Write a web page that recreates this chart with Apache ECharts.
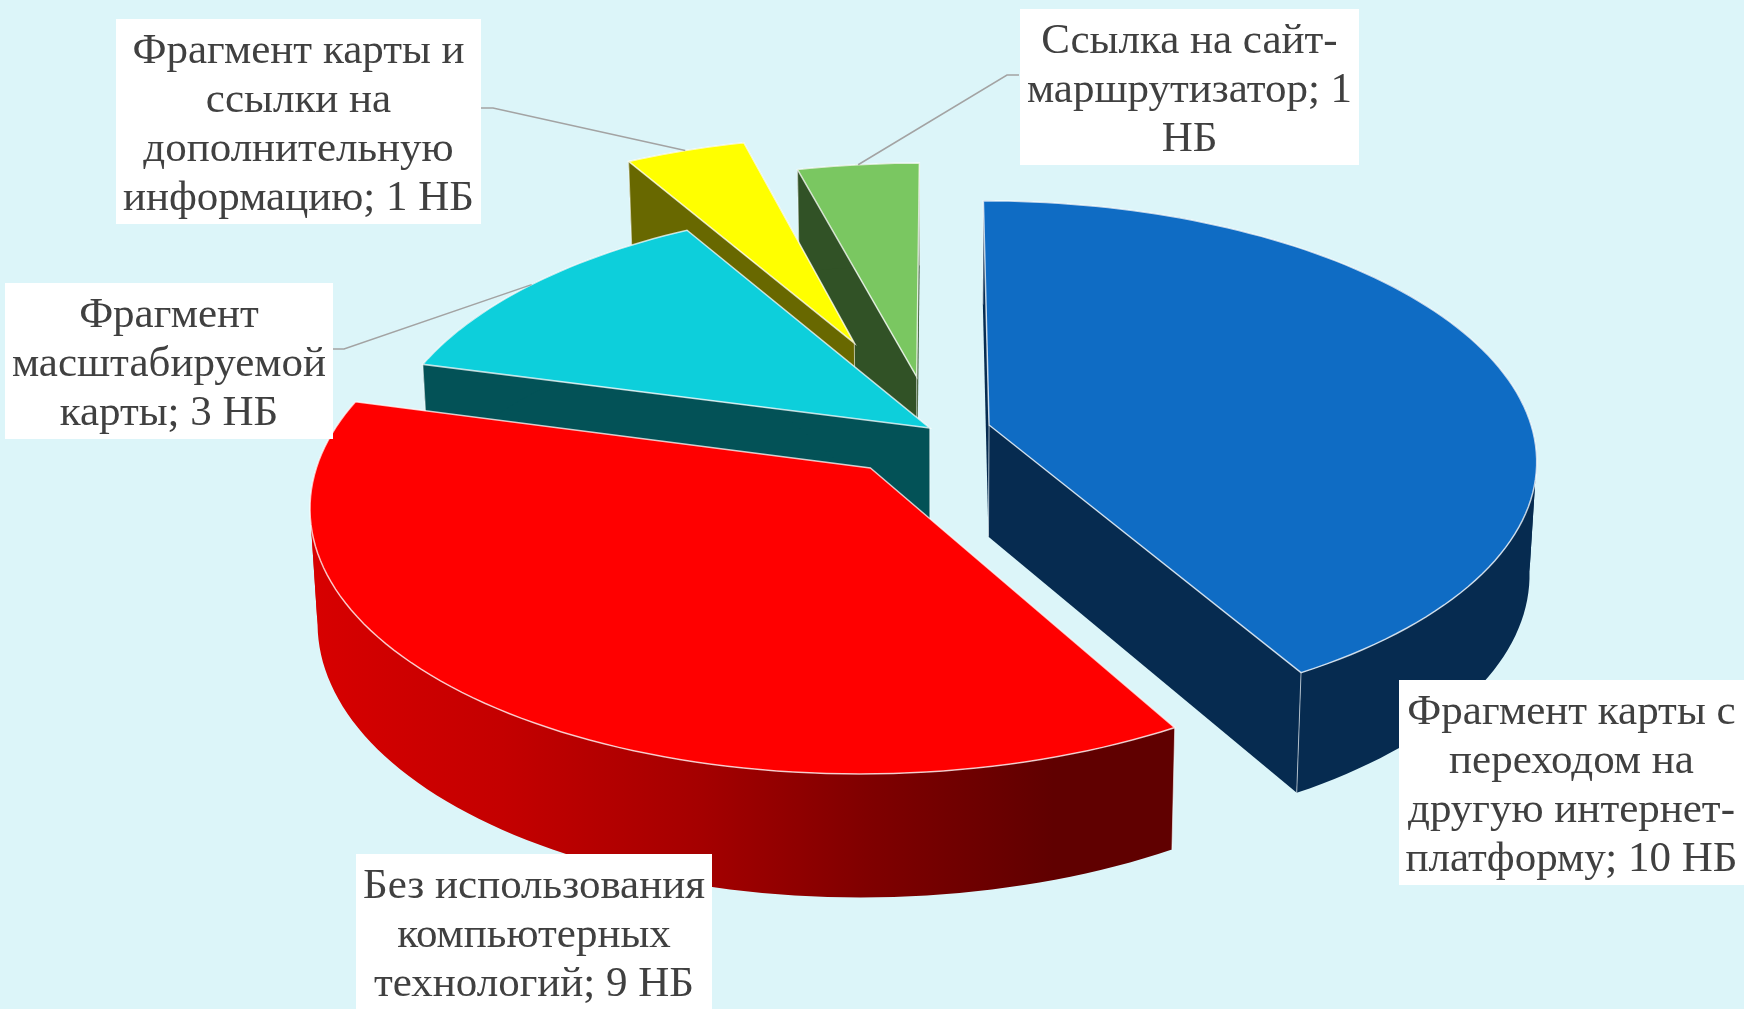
<!DOCTYPE html>
<html>
<head>
<meta charset="utf-8">
<style>
  html, body { margin: 0; padding: 0; background: #dcf5f9; }
  #chart { width: 1744px; height: 1009px; }
</style>
<script src="https://cdn.jsdelivr.net/npm/echarts@6/dist/echarts.min.js"></script>
</head>
<body>
<div id="chart"></div>
<script>
// Данные диаграммы
const sliceValues = [10, 9, 3, 1, 1]
const sliceNames = [
  'Фрагмент карты с переходом на другую интернет-платформу',
  'Без использования компьютерных технологий',
  'Фрагмент масштабируемой карты',
  'Фрагмент карты и ссылки на дополнительную информацию',
  'Ссылка на сайт-маршрутизатор'
]
const sliceLabels = [
  'Фрагмент карты с\nпереходом на\nдругую интернет-\nплатформу; 10 НБ',
  'Без использования\nкомпьютерных\nтехнологий; 9 НБ',
  'Фрагмент\nмасштабируемой\nкарты; 3 НБ',
  'Фрагмент карты и\nссылки на\nдополнительную\nинформацию; 1 НБ',
  'Ссылка на сайт-\nмаршрутизатор; 1\nНБ'
]

// Цвета: верх, боковая стенка
const topColors = ['#0f6cc4', '#ff0000', '#0dcfdb', '#ffff00', '#7ac761']
const wallColors = ['#062b50', null, '#035257', '#686800', '#315226']

// Геометрия наклонного круга
const center = { x: 940, y: 432 }
const radiusX = 544
const radiusY = 255.4
const perspective = 0.1315
const thickness = 112
const taper = 0.012

// Смещение секторов (доли радиуса) и порядок отрисовки
const explode = [
  [0.0905, -0.0275],
  [-0.1255, 0.1384],
  [-0.019, -0.0157],
  [-0.165, -0.365],
  [-0.044, -0.222]
]
const drawRank = [4, 5, 3, 2, 1]

// Подписи: x0, y0, x1, y1 и излом выноски
const labelBoxes = [
  [1399, 680, 1744, 885],
  [356, 854, 712, 1009],
  [5, 283, 333, 439],
  [116, 19, 481, 224],
  [1020, 9, 1359, 165]
]
const leaderStarts = [null, null, [[333, 349], [344, 349]], [[481, 108], [493, 108]], [[1019, 75], [1007, 75]]]

const total = sliceValues.reduce((a, b) => a + b, 0)

const project = (X, Y, depth) => {
  const s = 1 / (1 - perspective * Y)
  let px = center.x + radiusX * X * s
  const py = center.y + radiusY * Y * s + depth * thickness * Math.pow(s, 0.6)
  // низ стенки чуть сходится к центру
  if (depth) px = center.x + (px - center.x) * (1 - taper)
  return [px, py]
}

const rimPoint = (idx, deg, depth) => {
  const a = deg * Math.PI / 180
  return project(explode[idx][0] + Math.sin(a), explode[idx][1] - Math.cos(a), depth)
}

const arcPoints = (idx, from, to, depth) => {
  const pts = []
  const n = Math.max(8, Math.ceil((to - from) / 1.5))
  for (let i = 0; i <= n; i++) pts.push(rimPoint(idx, from + (to - from) * i / n, depth))
  return pts
}

// Режем дугу там, где x меняет направление, иначе полоса стенки перекручивается
const wallStrips = (top, bottom) => {
  const strips = []
  let first = 0
  for (let i = 1; i < top.length - 1; i++) {
    if ((top[i][0] - top[i - 1][0]) * (top[i + 1][0] - top[i][0]) < 0) {
      strips.push(top.slice(first, i + 1).concat(bottom.slice(first, i + 1).reverse()))
      first = i
    }
  }
  strips.push(top.slice(first).concat(bottom.slice(first).reverse()))
  return strips
}

const redWall = new echarts.graphic.LinearGradient(306, 0, 1175, 0, [
  { offset: 0, color: '#d80000' },
  { offset: 0.225, color: '#c40000' },
  { offset: 0.457, color: '#a40000' },
  { offset: 0.645, color: '#800000' },
  { offset: 0.86, color: '#600000' },
  { offset: 1, color: '#600000' }
], true)

const renderSlice = (params, api) => {
  const idx = params.dataIndex
  const value = api.value(0)
  const before = sliceValues.slice(0, idx).reduce((a, b) => a + b, 0)
  const from = before / total * 360
  const to = from + value / total * 360
  const rank = drawRank[idx]
  const wallFill = wallColors[idx] || redWall
  const apexTop = project(explode[idx][0], explode[idx][1], 0)
  const apexBottom = project(explode[idx][0], explode[idx][1], 1)
  const startTop = rimPoint(idx, from, 0)
  const startBottom = rimPoint(idx, from, 1)
  const endTop = rimPoint(idx, to, 0)
  const endBottom = rimPoint(idx, to, 1)
  const children = []

  // стенки
  if (wallColors[idx]) {
    children.push({
      type: 'polygon', z2: rank,
      shape: { points: [apexTop, startTop, startBottom, apexBottom] },
      style: { fill: wallFill }
    })
    children.push({
      type: 'polygon', z2: rank,
      shape: { points: [apexTop, endTop, endBottom, apexBottom] },
      style: { fill: wallFill }
    })
  }
  wallStrips(arcPoints(idx, from, to, 0), arcPoints(idx, from, to, 1)).forEach((points) => {
    children.push({
      type: 'polygon', z2: rank,
      shape: { points },
      style: { fill: wallFill }
    })
  })
  // светлые вертикальные рёбра
  ;[[apexTop, apexBottom], [startTop, startBottom], [endTop, endBottom]].forEach((edge) => {
    children.push({
      type: 'polyline', z2: rank,
      shape: { points: edge },
      style: { fill: null, stroke: 'rgba(255,255,255,0.6)', lineWidth: 1 }
    })
  })
  // верх сектора
  children.push({
    type: 'polygon', z2: rank,
    shape: { points: [apexTop].concat(arcPoints(idx, from, to, 0)) },
    style: { fill: topColors[idx], stroke: 'rgba(255,255,255,0.75)', lineWidth: 1.5 }
  })

  // выноска
  const leader = leaderStarts[idx]
  if (leader) {
    children.push({
      type: 'polyline', z2: 9,
      shape: { points: leader.concat([rimPoint(idx, (from + to) / 2, 0)]) },
      style: { fill: null, stroke: '#a3a3a3', lineWidth: 1.5 }
    })
  }

  // подпись
  const box = labelBoxes[idx]
  children.push({
    type: 'rect', z2: 10,
    shape: { x: box[0], y: box[1], width: box[2] - box[0], height: box[3] - box[1] },
    style: { fill: '#ffffff' }
  })
  children.push({
    type: 'text', z2: 11,
    style: {
      x: (box[0] + box[2]) / 2,
      y: (box[1] + box[3]) / 2 + 4,
      text: sliceLabels[idx],
      fill: '#404040',
      font: '43px "Liberation Serif", serif',
      lineHeight: 49,
      align: 'center',
      verticalAlign: 'middle'
    }
  })
  return { type: 'group', children }
}

const chart = echarts.init(document.getElementById('chart'))
chart.setOption({
  backgroundColor: '#dcf5f9',
  animation: false,
  series: [
    {
      type: 'custom',
      coordinateSystem: 'none',
      silent: true,
      clip: false,
      renderItem: renderSlice,
      data: sliceValues.map((v, i) => ({ name: sliceNames[i], value: [v] }))
    }
  ]
})
</script>
</body>
</html>
